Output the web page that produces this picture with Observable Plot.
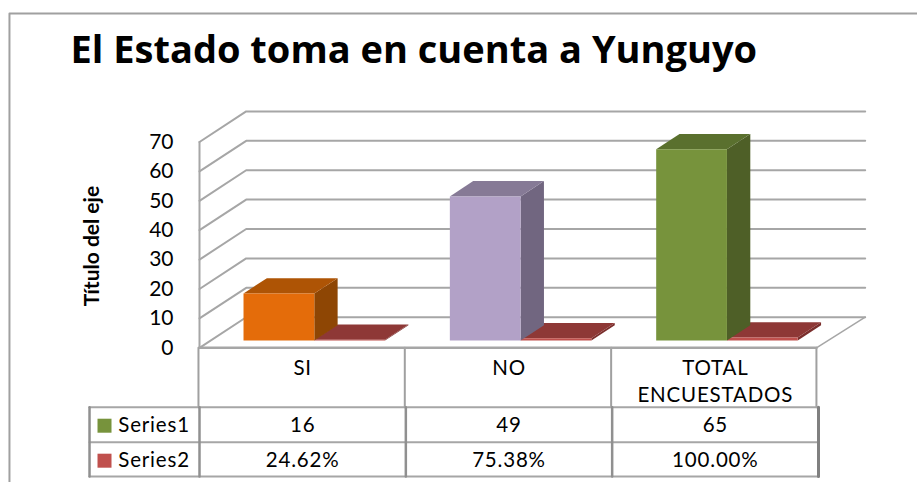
<!DOCTYPE html>
<html><head><meta charset="utf-8">
<style>html,body{margin:0;padding:0;background:#fff}svg{display:block}.wide text{letter-spacing:.04em}</style>
<script src="https://cdn.jsdelivr.net/npm/d3@7"></script>
<script src="https://cdn.jsdelivr.net/npm/@observablehq/plot@0.6"></script>
</head><body><script>
const titleText = "El Estado toma en cuenta a Yunguyo";
const axisTitle = "Título del eje";
const categoryLines = [["SI"], ["NO"], ["TOTAL", "ENCUESTADOS"]];
const series1 = [16, 49, 65];
const series2 = [0.2462, 0.7538, 1];
const seriesNames = ["Series1", "Series2"];
const yTicks = [0, 10, 20, 30, 40, 50, 60, 70];
const faceColors = [
  {front: "#E46C0A", side: "#8E4604", top: "#AE5405"},
  {front: "#B2A1C7", side: "#716680", top: "#867A96"},
  {front: "#77933C", side: "#4E5F27", top: "#5A702E"}
];
const red = {front: "#C0504D", side: "#7A2E2C", top: "#8E3836"};
const legendColors = ["#77933C", "#C0504D"];

// oblique projection, in data units (categories across, value units up)
const depthX = 0.2263, depthY = 10.4;
const P = (c, v, d) => ({x: c + d * depthX, y: v + d * depthY});
const grey = "#a6a6a6";
const path = (pts, stroke = grey, strokeWidth = 2) => Plot.line(pts, {x: "x", y: "y", stroke, strokeWidth});
const poly = (pts, fill) => Plot.line(pts, {x: "x", y: "y", fill, stroke: "none"});
const gridMarks = yTicks.map(v => path([P(0, v, 0), P(0, v, 1), P(3, v, 1)]));
function box(c0, c1, v, col) {
  const d0 = 0.24, d1 = 0.74;
  return [
    poly([P(c1, 0, d0), P(c1, 0, d1), P(c1, v, d1), P(c1, v, d0)], col.side),
    poly([P(c0, v, d0), P(c1, v, d0), P(c1, v, d1), P(c0, v, d1)], col.top),
    poly([P(c0, 0, d0), P(c1, 0, d0), P(c1, v, d0), P(c0, v, d0)], col.front)
  ];
}
const barMarks = categoryLines.flatMap((_, i) => [
  ...box(i + 0.502, i + 0.845, series2[i], red),
  ...box(i + 0.159, i + 0.502, series1[i], faceColors[i])
]);

// chart frame and table grid, in the same data units
const xLeft = -0.921, xRight = 3.49, yTop = 113.7, yBottom = -46;
const tableLeft = -0.533, rows = [-20.2, -32.1, -43.8];
const at = (x, y) => ({x, y});
const frameMarks = [
  path([at(xLeft, yBottom), at(xLeft, yTop), at(xRight, yTop)], "#a0a0a0", 2)
];
const tableMarks = [
  ...[-0.005, 0.995, 1.995, 2.99].map(c => path([at(c, 0), at(c, rows[0])], "#a0a0a0", 2)),
  ...rows.map(r => path([at(tableLeft, r), at(3, r)], "#a6a6a6", 2)),
  ...[tableLeft, 0, 1, 2].map(c => path([at(c, rows[0]), at(c, rows[2])], "#909090", 2.5)),
  path([at(3, rows[0]), at(3, rows[2])], "#808080", 3),
  path([at(0, 0), at(2.99, 0)], "#a6a6a6", 2.5),
  path([P(2.99, 0, 0), P(3, 0, 1)], "#a6a6a6", 1.5)
];
const rowY = [-26.4, -38.3];
const cellText = [
  ...categoryLines.flatMap((ls, i) => ls.map((t, k) => ({x: i + 0.5, y: -7 - k * 9.2, t}))),
  ...series1.map((v, i) => ({x: i + 0.5, y: rowY[0], t: String(v)})),
  ...series2.map((v, i) => ({x: i + 0.5, y: rowY[1], t: d3.format(".2%")(v)})),
  ...seriesNames.map((t, i) => ({x: -0.22, y: rowY[i], t}))
];
const chart = Plot.plot({
  width: 917, height: 482, margin: 0,
  style: {fontFamily: "Lato", background: "#fff", color: "#000"},
  x: {domain: [0, 3], range: [199, 818], axis: null},
  y: {domain: [0, 70], range: [347.3, 141.5], axis: null},
  marks: [
    ...frameMarks,
    ...gridMarks,
    path([at(0, 0), at(0, 70)]),
    ...barMarks,
    ...tableMarks,
    Plot.text(yTicks, {x: () => -0.126, y: d => d, text: d => String(d), textAnchor: "end", fontSize: 21, fill: "#000"}),
    Plot.text(cellText, {x: "x", y: "y", text: "t", fontSize: 20.5, fill: "#000", className: "wide"}),
    Plot.dot(legendColors, {x: () => -0.4604, y: (d, i) => [-26.5, -38.4][i], symbol: "square", r: 7.9, fill: d => d, stroke: "none"}),
    Plot.text([axisTitle], {x: () => -0.5186, y: () => 34.6, text: d => d, rotate: -90, fontSize: 21, fontWeight: 700, fill: "#000"}),
    Plot.text([titleText], {x: () => -0.625, y: () => 101, text: d => d, textAnchor: "start", fontSize: 38, fontWeight: 700, fontFamily: "Open Sans", fill: "#000"})
  ]
});
document.body.append(chart);
</script></body></html>
